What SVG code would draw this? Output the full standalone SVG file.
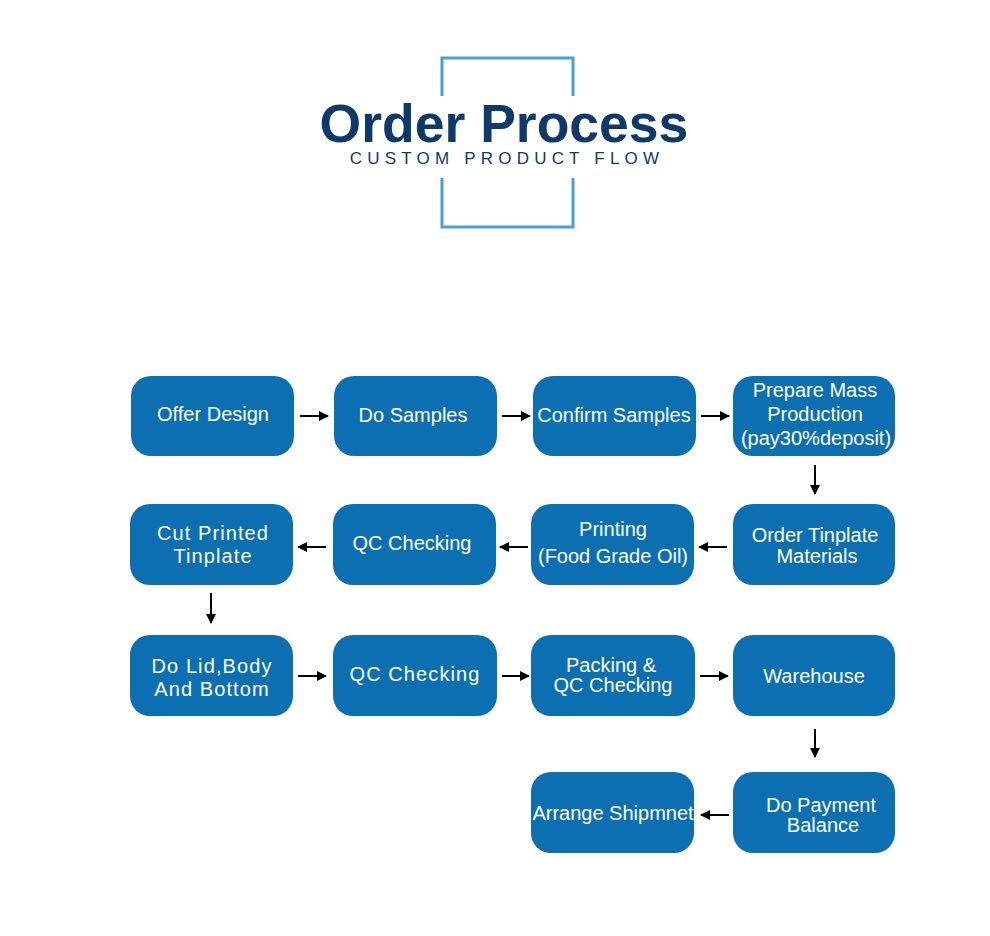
<svg xmlns="http://www.w3.org/2000/svg" width="990" height="936" viewBox="0 0 990 936">
<defs>
<style>
.box{fill:#0b6fb1}
.t{font-family:"Liberation Sans",Arial,sans-serif;font-size:20px;fill:#ffffff;text-anchor:middle}
.w{letter-spacing:1.1px}
.c{stroke:#000;stroke-width:2;fill:none;marker-end:url(#ah)}
</style>
<marker id="ah" viewBox="0 0 10 10" refX="9" refY="5" markerWidth="5.5" markerHeight="5" orient="auto" markerUnits="strokeWidth"><path d="M0,0 L10,5 L0,10 z" fill="#000"/></marker>
</defs>
<rect width="990" height="936" fill="#fff"/>
<g id="title">
<path d="M442,96 V58 H573 V96 M442,178 V227 H573 V178" fill="none" stroke="#4a9fd8" stroke-width="3"/>
<text x="504" y="142" font-family="Liberation Sans,Arial,sans-serif" font-size="53.5" font-weight="bold" fill="#0d3a6b" text-anchor="middle">Order Process</text>
<text x="507" y="164" font-family="Liberation Sans,Arial,sans-serif" font-size="17" fill="#0d3a6b" text-anchor="middle" letter-spacing="5.2">CUSTOM PRODUCT FLOW</text>
</g>
<g id="n1"><rect class="box" x="131" y="376" width="163" height="80" rx="20"/><text class="t" x="213" y="421">Offer Design</text></g>
<g id="n2"><rect class="box" x="334" y="376" width="163" height="80" rx="20"/><text class="t" x="413" y="422">Do Samples</text></g>
<g id="n3"><rect class="box" x="533" y="376" width="163" height="80" rx="20"/><text class="t" x="614" y="422">Confirm Samples</text></g>
<g id="n4"><rect class="box" x="733" y="376" width="162" height="80" rx="20"/><text class="t" x="815" y="397">Prepare Mass</text><text class="t" x="815" y="421">Production</text><text class="t" x="816" y="445">(pay30%deposit)</text></g>
<g id="n5"><rect class="box" x="733" y="504" width="162" height="81" rx="20"/><text class="t" x="815" y="542">Order Tinplate</text><text class="t" x="817" y="563">Materials</text></g>
<g id="n6"><rect class="box" x="531" y="504" width="163" height="81" rx="20"/><text class="t" x="613" y="536">Printing</text><text class="t" x="613" y="563">(Food Grade Oil)</text></g>
<g id="n7"><rect class="box" x="333" y="504" width="163" height="81" rx="20"/><text class="t" x="412" y="550">QC Checking</text></g>
<g id="n8"><rect class="box" x="130" y="504" width="163" height="81" rx="20"/><text class="t w" x="213" y="540">Cut Printed</text><text class="t w" x="213" y="563">Tinplate</text></g>
<g id="n9"><rect class="box" x="130" y="635" width="163" height="81" rx="20"/><text class="t w" x="212" y="673">Do Lid,Body</text><text class="t w" x="212" y="696">And Bottom</text></g>
<g id="n10"><rect class="box" x="333" y="635" width="164" height="81" rx="20"/><text class="t w" x="415" y="681">QC Checking</text></g>
<g id="n11"><rect class="box" x="531" y="635" width="164" height="81" rx="20"/><text class="t" x="611" y="672">Packing &amp;</text><text class="t" x="613" y="692">QC Checking</text></g>
<g id="n12"><rect class="box" x="733" y="635" width="162" height="81" rx="20"/><text class="t" x="814" y="683">Warehouse</text></g>
<g id="n13"><rect class="box" x="733" y="772" width="162" height="81" rx="20"/><text class="t" x="821" y="812">Do Payment</text><text class="t" x="823" y="832">Balance</text></g>
<g id="n14"><rect class="box" x="531" y="772" width="163" height="81" rx="20"/><text class="t" x="613" y="820">Arrange Shipmnet</text></g>
<g id="connectors">
<line class="c" x1="300" y1="416" x2="328" y2="416"/>
<line class="c" x1="502" y1="416" x2="530" y2="416"/>
<line class="c" x1="701" y1="416" x2="729" y2="416"/>
<line class="c" x1="815" y1="465" x2="815" y2="494"/>
<line class="c" x1="727" y1="547" x2="699" y2="547"/>
<line class="c" x1="528" y1="547" x2="500" y2="547"/>
<line class="c" x1="326" y1="547" x2="298" y2="547"/>
<line class="c" x1="211" y1="593" x2="211" y2="623"/>
<line class="c" x1="298" y1="676" x2="326" y2="676"/>
<line class="c" x1="502" y1="676" x2="529" y2="676"/>
<line class="c" x1="700" y1="676" x2="728" y2="676"/>
<line class="c" x1="815" y1="729" x2="815" y2="757"/>
<line class="c" x1="729" y1="815" x2="701" y2="815"/>
</g>
</svg>
